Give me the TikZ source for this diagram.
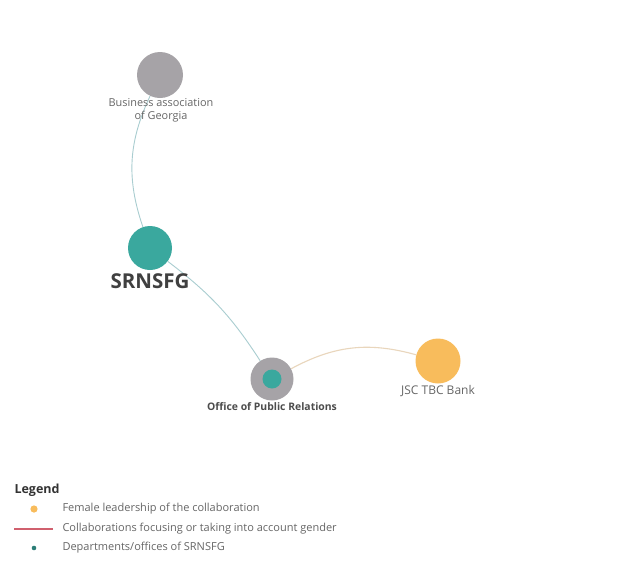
\documentclass[tikz,border=0pt]{standalone}
\usepackage{fontspec}
\setmainfont{Open Sans}
\definecolor{teal1}{HTML}{3AA89E}
\definecolor{grey1}{HTML}{A6A3A7}
\definecolor{orange1}{HTML}{F8BC5C}
\definecolor{edge1}{HTML}{A9CDD0}
\definecolor{edge2}{HTML}{E9D6BC}
\definecolor{rose1}{HTML}{D0606E}
\definecolor{text1}{HTML}{666666}

\tikzset{
  org/.style={circle, inner sep=0pt, minimum size=46pt},
  lbl/.style={text=text1, font=\fontsize{10.9}{13}\selectfont, align=center},
  leg/.style={text=text1, font=\fontsize{11}{12}\selectfont, anchor=west},
}

\begin{document}
\begin{tikzpicture}[x=1pt, y=-1pt]
\useasboundingbox [fill=white] (0,0) rectangle (630,568);

\node [org, fill=grey1] (bus) at (160, 75) {};
\node [org, fill=teal1, minimum size=44pt] (srn) at (150, 248) {};
\node [org, fill=grey1, minimum size=43pt] (off) at (272, 379) {};
\node [circle, inner sep=0pt, minimum size=19pt, fill=teal1] (offin) at (272, 379) {};
\node [org, fill=orange1, minimum size=45pt] (tbc) at (438, 361) {};

\draw [edge1, line width=.9pt] (bus) to [bend right=22] (srn);
\draw [edge1, line width=.9pt] (srn) to [bend left=10] (off);
\draw [edge2, line width=1.1pt] (off) to [bend left=22] (tbc);

\node [lbl] (buslbl) at (161, 110) {Business association\\of Georgia};
\node [font=\fontsize{20.5}{22}\selectfont\bfseries, text=black!75] (srnlbl) at (150, 281) {SRNSFG};
\node [font=\fontsize{10.4}{12}\selectfont\bfseries, text=black!70] (offlbl) at (272, 407) {Office of Public Relations};
\node [lbl, font=\fontsize{12}{13}\selectfont] (tbclbl) at (438, 391) {JSC TBC Bank};

% legend
\node [anchor=west, font=\fontsize{12.5}{14}\selectfont\bfseries, text=black!80] (legend) at (11, 490) {Legend};
\fill [orange1] (34, 509) circle (3.6pt);
\node [leg] (leg1) at (59, 509) {Female leadership of the collaboration};
\coordinate (l2a) at (14, 529);
\coordinate (l2b) at (53, 529);
\draw [rose1, line width=1.2pt] (l2a) -- (l2b);
\node [leg] (leg2) at (59, 529) {Collaborations focusing or taking into account gender};
\fill [teal1!75!black] (34, 548) circle (2.3pt);
\node [leg] (leg3) at (59, 548) {Departments/offices of SRNSFG};

\end{tikzpicture}
\end{document}
